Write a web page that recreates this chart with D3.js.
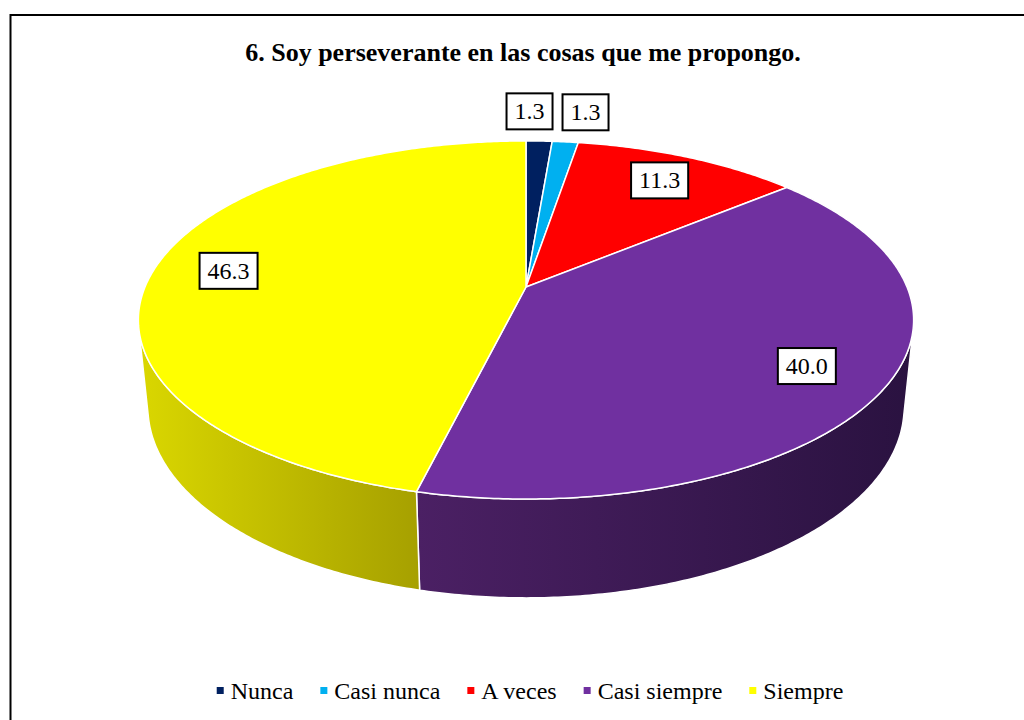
<!DOCTYPE html>
<html>
<head>
<meta charset="utf-8">
<script src="https://cdn.jsdelivr.net/npm/d3@7"></script>
<style>
  body { margin: 0; background: #fff; }
</style>
</head>
<body>
<svg id="chart" width="1024" height="720"></svg>
<script>
// data
var categories = ['Nunca', 'Casi nunca', 'A veces', 'Casi siempre', 'Siempre'];
var values = [1.3, 1.3, 11.3, 40.0, 46.3];
var valueLabels = ['1.3', '1.3', '11.3', '40.0', '46.3'];
var colors = ['#002060', '#00B0F0', '#FF0000', '#7030A0', '#FFFF00'];
// side wall shading: [left colour, right colour]
var sideColors = [['#001540', '#000d2a'], ['#0080b0', '#006080'], ['#c00000', '#900000'],
                  ['#4b2064', '#2a1240'], ['#dad700', '#a6a000']];

var serif = "'Liberation Serif'";
var svg = d3.select('#chart');

// outer frame (right/bottom edges fall outside the picture)
svg.append('rect')
  .attr('x', 10.5).attr('y', 15)
  .attr('width', 1100).attr('height', 800)
  .attr('fill', 'none').attr('stroke', '#000').attr('stroke-width', 2);

svg.append('text')
  .attr('x', 523).attr('y', 61)
  .attr('text-anchor', 'middle')
  .style('font-family', serif)
  .style('font-size', '26px').style('font-weight', 'bold')
  .text('6. Soy perseverante en las cosas que me propongo.');

// perspective camera for the 3D pie
var cam = { cx: 526, cy: 287, f: 1844, D: 4.84, alpha: 27 * Math.PI / 180, H: 0.26 };
var sa = Math.sin(cam.alpha), ca = Math.cos(cam.alpha);

// theta: pie angle (0 = 12 o'clock, clockwise), r: radius fraction, h: 0 top face, 1 bottom
function project(theta, r, h) {
  var u = r * Math.sin(theta), v = -r * Math.cos(theta);
  var depth = cam.D + h * cam.H * sa - v * ca;
  return [cam.cx + cam.f * u / depth, cam.cy + cam.f * (v * sa + h * cam.H * ca) / depth];
}

function rimPoints(a0, a1, h) {
  var n = Math.max(2, Math.ceil((a1 - a0) / 0.01));
  return d3.range(n + 1).map(function(i) { return project(a0 + (a1 - a0) * i / n, 1, h); });
}

var pie = d3.pie().sort(null).value(function(d) { return d; });
var arcs = pie(values);
var line = d3.line();

// visible part of the outer wall
var Ez = cam.D * ca;
var visStart = Math.PI - Math.acos(1 / Ez), visEnd = Math.PI + Math.acos(1 / Ez);

var defs = svg.append('defs');
var walls = svg.append('g');
arcs.forEach(function(a, i) {
  var a0 = Math.max(a.startAngle, visStart), a1 = Math.min(a.endAngle, visEnd);
  if (a1 <= a0) return;
  var top = rimPoints(a0, a1, 0);
  var bottom = rimPoints(a0, a1, 1).reverse();
  var xs = top.concat(bottom).map(function(p) { return p[0]; });
  var grad = defs.append('linearGradient')
    .attr('id', 'side' + i)
    .attr('gradientUnits', 'userSpaceOnUse')
    .attr('x1', d3.min(xs)).attr('x2', d3.max(xs))
    .attr('y1', 0).attr('y2', 0);
  grad.append('stop').attr('offset', '0%').attr('stop-color', sideColors[i][0]);
  grad.append('stop').attr('offset', '100%').attr('stop-color', sideColors[i][1]);
  walls.append('path')
    .attr('d', line(top.concat(bottom)) + 'Z')
    .attr('fill', 'url(#side' + i + ')')
    .attr('stroke', '#fff').attr('stroke-width', 1.5)
    .attr('stroke-linejoin', 'round');
});

// top faces
var apex = project(0, 0, 0);
svg.append('g').selectAll('path')
  .data(arcs)
  .enter().append('path')
  .attr('d', function(a) { return line([apex].concat(rimPoints(a.startAngle, a.endAngle, 0))) + 'Z'; })
  .attr('fill', function(a, i) { return colors[i]; })
  .attr('stroke', '#fff').attr('stroke-width', 1.5)
  .attr('stroke-linejoin', 'round');

// data labels: big slices inside at 80% radius, thin slices outside
var labels = arcs.map(function(a, i) {
  var mid = (a.startAngle + a.endAngle) / 2;
  var outside = (a.endAngle - a.startAngle) < 0.2;
  var p = project(mid, outside ? 1.25 : 0.8, 0);
  return { x: p[0], y: p[1], text: valueLabels[i], outside: outside };
});

var labelG = svg.append('g');
labels.forEach(function(l) {
  var g = labelG.append('g');
  var t = g.append('text')
    .attr('text-anchor', 'middle')
    .attr('dy', '0.33em')
    .style('font-family', serif)
    .style('font-size', '24px')
    .text(l.text);
  l.g = g;
  l.w = t.node().getComputedTextLength() + 16;
  l.h = 36;
});
// push overlapping outside labels apart
var outs = labels.filter(function(l) { return l.outside; }).sort(function(a, b) { return a.x - b.x; });
for (var k = 1; k < outs.length; k++) {
  var p = outs[k - 1], q = outs[k];
  var need = (p.w + q.w) / 2 + 10;
  if (q.x - p.x < need) {
    var m = (p.x + q.x) / 2;
    p.x = m - need / 2; q.x = m + need / 2;
  }
}
labels.forEach(function(l) {
  l.g.attr('transform', 'translate(' + l.x + ',' + l.y + ')');
  l.g.insert('rect', 'text')
    .attr('x', -l.w / 2).attr('y', -l.h / 2)
    .attr('width', l.w).attr('height', l.h)
    .attr('fill', '#fff').attr('stroke', '#000').attr('stroke-width', 2);
});

// legend
var legend = svg.append('g');
var lx = 0;
categories.forEach(function(c, i) {
  var item = legend.append('g').attr('transform', 'translate(' + lx + ',0)');
  item.append('rect')
    .attr('x', 0).attr('y', -4)
    .attr('width', 7).attr('height', 7)
    .attr('fill', colors[i]);
  var t = item.append('text')
    .attr('x', 14).attr('y', 8)
    .style('font-family', serif)
    .style('font-size', '24px')
    .text(c);
  lx += 14 + t.node().getComputedTextLength() + 27;
});
var legendW = lx - 27;
legend.attr('transform', 'translate(' + (530 - legendW / 2) + ',691)');
</script>
</body>
</html>
